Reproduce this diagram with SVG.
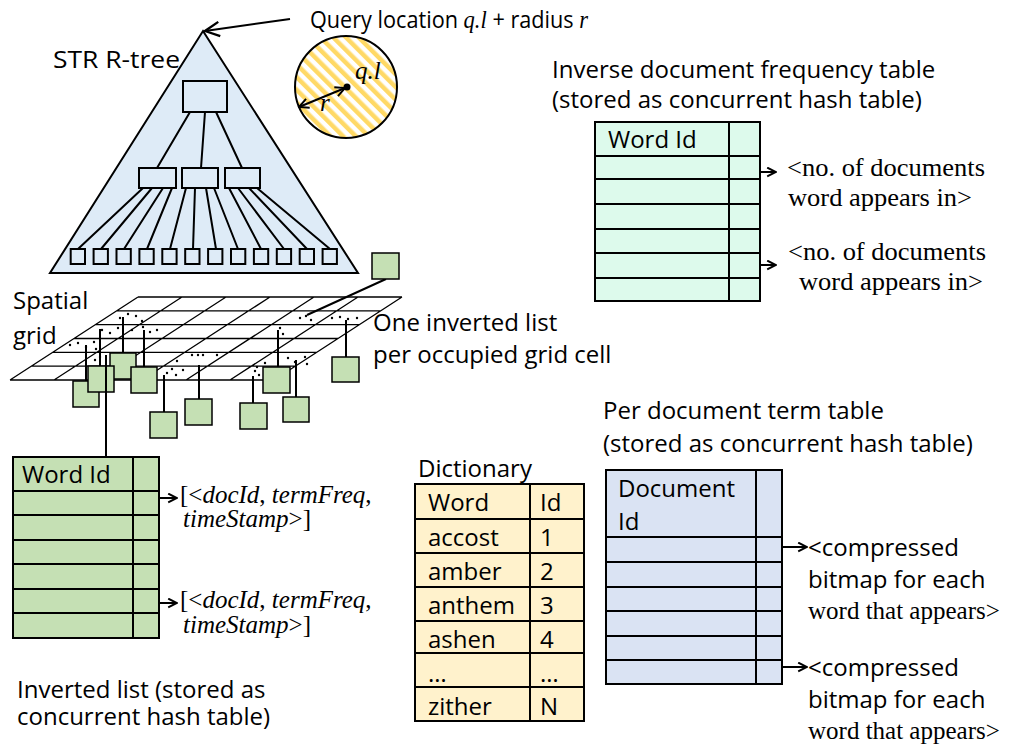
<svg xmlns="http://www.w3.org/2000/svg" width="1013" height="744" viewBox="0 0 1013 744">
<defs>
<style>
.s{font-family:"Open Sans","Liberation Sans",sans-serif;font-size:24px;fill:#000}
.t{font-family:"Liberation Serif","Times New Roman",serif;font-size:25px;fill:#000}
.i{font-style:italic}
.ln{stroke:#000;stroke-width:2;fill:none}
.box{stroke:#000;stroke-width:2}
.blue{fill:#DEEBF7}
.green{fill:#C5E0B4}
.mint{fill:#DDFAEC}
.yel{fill:#FFF2CC}
.lav{fill:#DAE3F3}
.grid{stroke:#000;stroke-width:1.3;fill:none}
.dot{fill:#000}
</style>
<marker id="ah" viewBox="0 0 10 10" refX="9" refY="5" markerWidth="11" markerHeight="11" orient="auto" markerUnits="userSpaceOnUse">
<path d="M1,1 L9,5 L1,9" fill="none" stroke="#000" stroke-width="1.8"/>
</marker>
<marker id="ahb" viewBox="0 0 10 10" refX="9" refY="5" markerWidth="18" markerHeight="18" orient="auto" markerUnits="userSpaceOnUse">
<path d="M1,1 L9,5 L1,9" fill="none" stroke="#000" stroke-width="1.3"/>
</marker>
<marker id="ahs" viewBox="0 0 10 10" refX="9" refY="5" markerWidth="12" markerHeight="12" orient="auto-start-reverse" markerUnits="userSpaceOnUse">
<path d="M1,1 L9,5 L1,9" fill="none" stroke="#000" stroke-width="1.6"/>
</marker>
<pattern id="stripes" width="9" height="9" patternUnits="userSpaceOnUse" patternTransform="rotate(-45)">
<rect width="9" height="9" fill="#fff"/>
<rect width="4.5" height="9" fill="#FFD966"/>
</pattern>
</defs>
<rect width="1013" height="744" fill="#fff"/>

<!-- R-tree -->
<g id="rtree">
<polygon points="203,31 358,273 50,273" class="blue box"/>
<rect x="183" y="81" width="44" height="31" class="blue box"/>
<rect x="139" y="168" width="37" height="20" class="blue box"/>
<rect x="182" y="168" width="36" height="20" class="blue box"/>
<rect x="225" y="168" width="35" height="20" class="blue box"/>
<path class="ln" d="M190,112 L157,168 M205,112 L201,168 M216,112 L242,168"/>
<path class="ln" d="M143,188 L78,249 M152,188 L101,249 M163,188 L124,249 M172,188 L147,249 M186,188 L170,249 M195,188 L193,249 M206,188 L216,249 M214,188 L238,249 M229,188 L261,249 M238,188 L284,249 M249,188 L307,249 M257,188 L330,249"/>
<g class="blue box">
<rect x="70.7" y="249" width="14.3" height="15"/>
<rect x="93.6" y="249" width="14.3" height="15"/>
<rect x="116.5" y="249" width="14.3" height="15"/>
<rect x="139.4" y="249" width="14.3" height="15"/>
<rect x="162.3" y="249" width="14.3" height="15"/>
<rect x="185.2" y="249" width="14.3" height="15"/>
<rect x="208.1" y="249" width="14.3" height="15"/>
<rect x="231" y="249" width="14.3" height="15"/>
<rect x="253.9" y="249" width="14.3" height="15"/>
<rect x="276.8" y="249" width="14.3" height="15"/>
<rect x="299.7" y="249" width="14.3" height="15"/>
<rect x="322.6" y="249" width="14.3" height="15"/>
</g>
<text class="s" x="53" y="68" textLength="127" lengthAdjust="spacingAndGlyphs">STR R-tree</text>
</g>

<!-- Query -->
<g id="query">
<circle cx="346" cy="87" r="51" fill="url(#stripes)" stroke="#000" stroke-width="2"/>
<line x1="345" y1="88" x2="299" y2="107" class="ln" stroke-width="1.8" marker-start="url(#ahs)" marker-end="url(#ahs)"/>
<circle cx="347" cy="87" r="3.5" class="dot"/>
<text class="t i" x="355" y="79">q.l</text>
<text class="t i" x="320" y="111">r</text>
<text class="s" x="310" y="28" textLength="278" lengthAdjust="spacingAndGlyphs">Query location <tspan class="t i" font-size="24">q.l</tspan> + radius <tspan class="t i" font-size="24">r</tspan></text>
</g>

<!-- Spatial grid -->
<g id="grid">
<polygon points="138,297 402,297 274,380 10,380" fill="#fff"/>
<path class="grid" d="M138,297 H402 M116.7,310.8 H380.7 M95.3,324.7 H359.3 M74,338.5 H338 M52.7,352.3 H316.7 M31.3,366.2 H295.3 M10,380 H274 M138,297 L10,380 M182,297 L54,380 M226,297 L98,380 M270,297 L142,380 M314,297 L186,380 M358,297 L230,380 M402,297 L274,380"/>
<g class="dot">
<circle cx="70" cy="345" r="1.2"/><circle cx="78" cy="343" r="1.2"/><circle cx="86" cy="347" r="1.2"/><circle cx="94" cy="342" r="1.2"/><circle cx="96" cy="349" r="1.2"/>
<circle cx="102" cy="330" r="1.2"/><circle cx="110" cy="333" r="1.2"/><circle cx="118" cy="328" r="1.2"/><circle cx="132" cy="330" r="1.2"/><circle cx="143" cy="327" r="1.2"/><circle cx="150" cy="332" r="1.2"/><circle cx="157" cy="330" r="1.2"/>
<circle cx="120" cy="318" r="1.2"/><circle cx="128" cy="314" r="1.2"/><circle cx="136" cy="316" r="1.2"/><circle cx="142" cy="321" r="1.2"/>
<circle cx="95" cy="360" r="1.2"/><circle cx="100" cy="357" r="1.2"/>
<circle cx="167" cy="373" r="1.2"/><circle cx="172" cy="369" r="1.2"/><circle cx="176" cy="375" r="1.2"/><circle cx="183" cy="370" r="1.2"/>
<circle cx="192" cy="355" r="1.2"/><circle cx="198" cy="355" r="1.2"/><circle cx="203" cy="355" r="1.2"/><circle cx="217" cy="355" r="1.2"/><circle cx="177" cy="361" r="1.2"/>
<circle cx="300" cy="318" r="1.2"/><circle cx="306" cy="316" r="1.2"/><circle cx="311" cy="320" r="1.2"/>
<circle cx="332" cy="318" r="1.2"/><circle cx="340" cy="317" r="1.2"/><circle cx="348" cy="319" r="1.2"/><circle cx="357" cy="318" r="1.2"/>
<circle cx="280" cy="328" r="1.2"/><circle cx="283" cy="334" r="1.2"/>
<circle cx="255" cy="371" r="1.2"/><circle cx="259" cy="375" r="1.2"/><circle cx="257" cy="367" r="1.2"/><circle cx="265" cy="363" r="1.2"/>
<circle cx="288" cy="358" r="1.2"/><circle cx="295" cy="362" r="1.2"/><circle cx="305" cy="357" r="1.2"/><circle cx="307" cy="364" r="1.2"/>
</g>
<text class="s" x="13" y="309">Spatial</text>
<text class="s" x="13" y="344">grid</text>
<text class="s" x="373" y="331">One inverted list</text>
<text class="s" x="373" y="363">per occupied grid cell</text>
</g>

<!-- Pins -->
<g id="pins">
<path class="ln" d="M86,345 V381 M100,329 V366 M123,317 V353 M144,330 V367 M164,375 V412 M199,365 V399 M253,376 V403 M278,330 V367 M296,360 V397 M346,320 V357 M307,315 L386,279"/>
</g>
<g id="cells" class="green" stroke="#000" stroke-width="1.5">
<rect x="73" y="381" width="26" height="26"/>
<rect x="110" y="353" width="26" height="26"/>
<rect x="88" y="366" width="26" height="26"/>
<rect x="131" y="367" width="26" height="26"/>
<rect x="150" y="412" width="27" height="26"/>
<rect x="185" y="399" width="27" height="26"/>
<rect x="240" y="403" width="27" height="26"/>
<rect x="263" y="367" width="27" height="26"/>
<rect x="283" y="397" width="26" height="25"/>
<rect x="332" y="357" width="27" height="25"/>
<rect x="372" y="253" width="27" height="26"/>
</g>

<!-- Connectors -->
<g id="connectors">
<line x1="106" y1="355" x2="106" y2="457" class="ln"/>
<line x1="290" y1="19" x2="205" y2="31" class="ln" marker-end="url(#ahb)"/>
<line x1="760" y1="172" x2="776" y2="172" class="ln" marker-end="url(#ah)"/>
<line x1="760" y1="265" x2="776" y2="265" class="ln" marker-end="url(#ah)"/>
<line x1="159" y1="498" x2="177" y2="498" class="ln" marker-end="url(#ah)"/>
<line x1="159" y1="603" x2="177" y2="603" class="ln" marker-end="url(#ah)"/>
<line x1="782" y1="547" x2="807" y2="547" class="ln" marker-end="url(#ah)"/>
<line x1="782" y1="667" x2="807" y2="667" class="ln" marker-end="url(#ah)"/>
</g>

<!-- IDF table -->
<g id="idf">
<text class="s" x="552" y="78">Inverse document frequency table</text>
<text class="s" x="552" y="108">(stored as concurrent hash table)</text>
<rect x="595" y="122" width="165" height="179" class="mint box"/>
<path class="ln" d="M729,122 V301 M595,156 H760 M595,179 H760 M595,204 H760 M595,229 H760 M595,253 H760 M595,278 H760"/>
<text class="s" x="608" y="148">Word Id</text>
<text class="t" x="787" y="176" textLength="198" lengthAdjust="spacingAndGlyphs">&lt;no. of documents</text>
<text class="t" x="788" y="206" textLength="184" lengthAdjust="spacingAndGlyphs">word appears in&gt;</text>
<text class="t" x="788" y="260" textLength="198" lengthAdjust="spacingAndGlyphs">&lt;no. of documents</text>
<text class="t" x="799" y="290" textLength="184" lengthAdjust="spacingAndGlyphs">word appears in&gt;</text>
</g>

<!-- Inverted list -->
<g id="invlist">
<rect x="13" y="457" width="146" height="181" class="green box"/>
<path class="ln" d="M133,457 V638 M13,491 H159 M13,515 H159 M13,540 H159 M13,564 H159 M13,589 H159 M13,613 H159"/>
<text class="s" x="22" y="483">Word Id</text>
<text class="t" x="180" y="503">[&lt;<tspan class="i">docId</tspan>, <tspan class="i">termFreq</tspan>,</text>
<text class="t" x="183" y="527"><tspan class="i">timeStamp</tspan>&gt;]</text>
<text class="t" x="180" y="608">[&lt;<tspan class="i">docId</tspan>, <tspan class="i">termFreq</tspan>,</text>
<text class="t" x="183" y="633"><tspan class="i">timeStamp</tspan>&gt;]</text>
<text class="s" x="17" y="698">Inverted list (stored as</text>
<text class="s" x="17" y="725">concurrent hash table)</text>
</g>

<!-- Dictionary -->
<g id="dictionary">
<text class="s" x="418" y="477">Dictionary</text>
<rect x="415" y="484" width="169" height="237" class="yel box"/>
<path class="ln" d="M530,484 V721 M415,519 H584 M415,553 H584 M415,587 H584 M415,621 H584 M415,653 H584 M415,687 H584"/>
<text class="s" x="428" y="511">Word</text><text class="s" x="540" y="511">Id</text>
<text class="s" x="428" y="546">accost</text><text class="s" x="540" y="546">1</text>
<text class="s" x="428" y="580">amber</text><text class="s" x="540" y="580">2</text>
<text class="s" x="428" y="614">anthem</text><text class="s" x="540" y="614">3</text>
<text class="s" x="428" y="648">ashen</text><text class="s" x="540" y="648">4</text>
<text class="s" x="428" y="682">…</text><text class="s" x="540" y="682">…</text>
<text class="s" x="428" y="715">zither</text><text class="s" x="540" y="715">N</text>
</g>

<!-- Per document term table -->
<g id="perdoc">
<text class="s" x="603" y="419">Per document term table</text>
<text class="s" x="603" y="452">(stored as concurrent hash table)</text>
<rect x="606" y="470" width="176" height="214" class="lav box"/>
<path class="ln" d="M756,470 V684 M606,537 H782 M606,562 H782 M606,587 H782 M606,611 H782 M606,636 H782 M606,660 H782"/>
<text class="s" x="618" y="497">Document</text>
<text class="s" x="618" y="530">Id</text>
<text class="s" x="808" y="556">&lt;compressed</text>
<text class="s" x="808" y="588">bitmap for each</text>
<text class="t" x="808" y="619">word that appears&gt;</text>
<text class="s" x="808" y="676">&lt;compressed</text>
<text class="s" x="808" y="708">bitmap for each</text>
<text class="t" x="808" y="739">word that appears&gt;</text>
</g>
</svg>
